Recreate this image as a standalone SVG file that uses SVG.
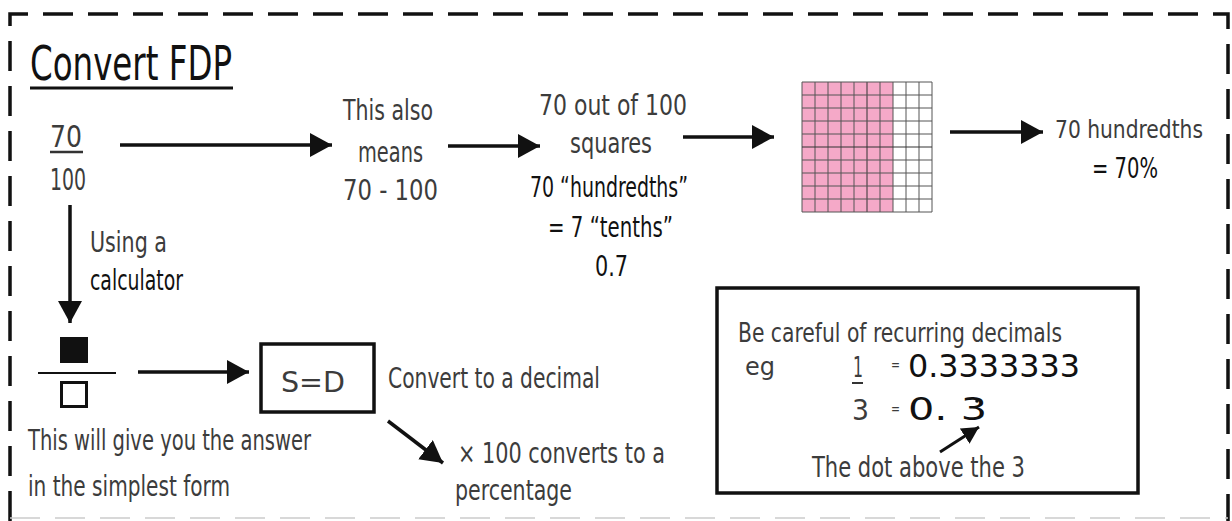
<svg xmlns="http://www.w3.org/2000/svg" width="1232" height="521" viewBox="0 0 1232 521">
<style>
  .t { font-family: "Liberation Sans Narrow", "DejaVu Sans Condensed", "Liberation Sans", sans-serif; fill: #3c3c3c; font-size: 28px; }
  .b { fill: #111; }
  .big { fill: #111; font-size: 32px; }
  .ln { stroke: #111; stroke-width: 3.5; fill: none; }
  .box { stroke: #111; stroke-width: 3.5; fill: #fff; }
  .g { stroke: #555; stroke-width: 1; }
</style>
<defs>
  <marker id="ah" markerUnits="userSpaceOnUse" markerWidth="26" markerHeight="26" refX="22" refY="12" orient="auto">
    <path d="M0,0 L22,12 L0,24 Z" fill="#111"/>
  </marker>
  <marker id="ah2" markerUnits="userSpaceOnUse" markerWidth="20" markerHeight="20" refX="17" refY="9" orient="auto">
    <path d="M0,0 L17,9 L0,18 Z" fill="#111"/>
  </marker>
</defs>
<rect width="1232" height="521" fill="#fff"/>
<path d="M10,521 V14 H1228 V521" fill="none" stroke="#111" stroke-width="3.5" stroke-dasharray="30 15"/>
<line x1="10" y1="518" x2="1228" y2="518" stroke="#ccc" stroke-width="1.5" stroke-dasharray="30 15"/>

<g id="title">
  <text class="t" x="30" y="80" style="font-size:48px;fill:#111" textLength="202" lengthAdjust="spacingAndGlyphs">Convert FDP</text>
  <line x1="30" y1="88" x2="233" y2="88" stroke="#111" stroke-width="3"/>
</g>

<g id="fraction">
  <text class="t" x="50" y="147" style="font-size:30px" textLength="32" lengthAdjust="spacingAndGlyphs">70</text>
  <line x1="50" y1="152" x2="83" y2="152" stroke="#333" stroke-width="2.5"/>
  <text class="t" x="50" y="190" style="font-size:30px" textLength="36" lengthAdjust="spacingAndGlyphs">100</text>
</g>

<g id="also-means">
  <text class="t" x="343" y="120" textLength="90" lengthAdjust="spacingAndGlyphs">This also</text>
  <text class="t" x="358" y="162" textLength="65" lengthAdjust="spacingAndGlyphs">means</text>
  <text class="t" x="343" y="200" textLength="95" lengthAdjust="spacingAndGlyphs">70 - 100</text>
</g>

<g id="out-of-100">
  <text class="t" x="539" y="115" textLength="148" lengthAdjust="spacingAndGlyphs">70 out of 100</text>
  <text class="t" x="570" y="153" textLength="82" lengthAdjust="spacingAndGlyphs">squares</text>
  <text class="t b" x="530" y="197" textLength="158" lengthAdjust="spacingAndGlyphs">70 “hundredths”</text>
  <text class="t b" x="548" y="237" textLength="125" lengthAdjust="spacingAndGlyphs">= 7 “tenths”</text>
  <text class="t b" x="595" y="276" textLength="33" lengthAdjust="spacingAndGlyphs">0.7</text>
</g>

<g id="grid">
  <rect x="802" y="82" width="130" height="130" fill="#fff"/>
  <rect x="802" y="82" width="91" height="130" fill="#f5a9c8"/>
  <g class="g">
    <line x1="802" y1="82" x2="802" y2="212"/><line x1="815" y1="82" x2="815" y2="212"/>
    <line x1="828" y1="82" x2="828" y2="212"/><line x1="841" y1="82" x2="841" y2="212"/>
    <line x1="854" y1="82" x2="854" y2="212"/><line x1="867" y1="82" x2="867" y2="212" stroke="#333"/>
    <line x1="880" y1="82" x2="880" y2="212"/><line x1="893" y1="82" x2="893" y2="212"/>
    <line x1="906" y1="82" x2="906" y2="212"/><line x1="919" y1="82" x2="919" y2="212"/>
    <line x1="932" y1="82" x2="932" y2="212"/>
    <line x1="802" y1="82" x2="932" y2="82"/><line x1="802" y1="95" x2="932" y2="95"/>
    <line x1="802" y1="108" x2="932" y2="108"/><line x1="802" y1="121" x2="932" y2="121"/>
    <line x1="802" y1="134" x2="932" y2="134"/><line x1="802" y1="147" x2="932" y2="147" stroke="#333"/>
    <line x1="802" y1="160" x2="932" y2="160"/><line x1="802" y1="173" x2="932" y2="173"/>
    <line x1="802" y1="186" x2="932" y2="186"/><line x1="802" y1="199" x2="932" y2="199"/>
    <line x1="802" y1="212" x2="932" y2="212"/>
  </g>
</g>

<g id="seventy-percent">
  <text class="t" x="1055" y="138" style="font-size:25px" textLength="148" lengthAdjust="spacingAndGlyphs">70 hundredths</text>
  <text class="t b" x="1092" y="178" textLength="66" lengthAdjust="spacingAndGlyphs">= 70%</text>
</g>

<g id="using-calculator">
  <text class="t" x="90" y="252" textLength="77" lengthAdjust="spacingAndGlyphs">Using a</text>
  <text class="t b" x="90" y="290" textLength="93" lengthAdjust="spacingAndGlyphs">calculator</text>
</g>

<g id="calc-key">
  <rect x="60" y="337" width="28" height="26" fill="#111"/>
  <line x1="38" y1="373" x2="116" y2="373" stroke="#111" stroke-width="2"/>
  <rect x="61.5" y="382.5" width="25" height="24" fill="none" stroke="#111" stroke-width="3"/>
</g>

<g id="sd-box">
  <rect class="box" x="261" y="344" width="113" height="68"/>
  <text class="t" x="281" y="392" textLength="64" lengthAdjust="spacingAndGlyphs">S=D</text>
</g>

<g id="convert-decimal">
  <text class="t" x="388" y="388" textLength="212" lengthAdjust="spacingAndGlyphs">Convert to a decimal</text>
</g>

<g id="times-100">
  <text class="t" x="458" y="463" textLength="207" lengthAdjust="spacingAndGlyphs">× 100 converts to a</text>
  <text class="t" x="455" y="500" textLength="117" lengthAdjust="spacingAndGlyphs">percentage</text>
</g>

<g id="simplest">
  <text class="t" x="28" y="450" textLength="283" lengthAdjust="spacingAndGlyphs">This will give you the answer</text>
  <text class="t" x="28" y="496" textLength="202" lengthAdjust="spacingAndGlyphs">in the simplest form</text>
</g>

<g id="recurring">
  <rect class="box" x="717" y="288" width="421" height="205"/>
  <text class="t" x="738" y="342" style="font-size:26px" textLength="324" lengthAdjust="spacingAndGlyphs">Be careful of recurring decimals</text>
  <text class="t" x="745" y="375" style="font-size:25px" textLength="30" lengthAdjust="spacingAndGlyphs">eg</text>
  <text class="t" x="853" y="377" textLength="10" lengthAdjust="spacingAndGlyphs">1</text>
  <line x1="852" y1="383" x2="863" y2="383" stroke="#333" stroke-width="2"/>
  <text class="t" x="891" y="370" style="font-size:16px" textLength="9" lengthAdjust="spacingAndGlyphs">=</text>
  <text class="t big" x="908" y="377" textLength="172" lengthAdjust="spacingAndGlyphs">0.3333333</text>
  <text class="t" x="852" y="420" textLength="17" lengthAdjust="spacingAndGlyphs">3</text>
  <text class="t" x="891" y="414" style="font-size:16px" textLength="9" lengthAdjust="spacingAndGlyphs">=</text>
  <text class="t big" x="908" y="420" textLength="79" lengthAdjust="spacingAndGlyphs">0. 3</text>
  <circle cx="977" cy="401" r="1.8" fill="#111"/>
  <text class="t" x="812" y="477" textLength="213" lengthAdjust="spacingAndGlyphs">The dot above the 3</text>
</g>

<g id="connectors">
  <line class="ln" x1="120" y1="145" x2="332" y2="145" marker-end="url(#ah)"/>
  <line class="ln" x1="448" y1="146" x2="540" y2="146" marker-end="url(#ah)"/>
  <line class="ln" x1="683" y1="137" x2="774" y2="137" marker-end="url(#ah)"/>
  <line class="ln" x1="950" y1="132" x2="1043" y2="132" marker-end="url(#ah)"/>
  <line class="ln" x1="70" y1="205" x2="70" y2="323" marker-end="url(#ah)"/>
  <line class="ln" x1="138" y1="372" x2="249" y2="372" marker-end="url(#ah)"/>
  <line class="ln" x1="388" y1="421" x2="443" y2="463" marker-end="url(#ah)"/>
  <line x1="940" y1="452" x2="979" y2="427" stroke="#111" stroke-width="3" marker-end="url(#ah2)"/>
</g>
</svg>
